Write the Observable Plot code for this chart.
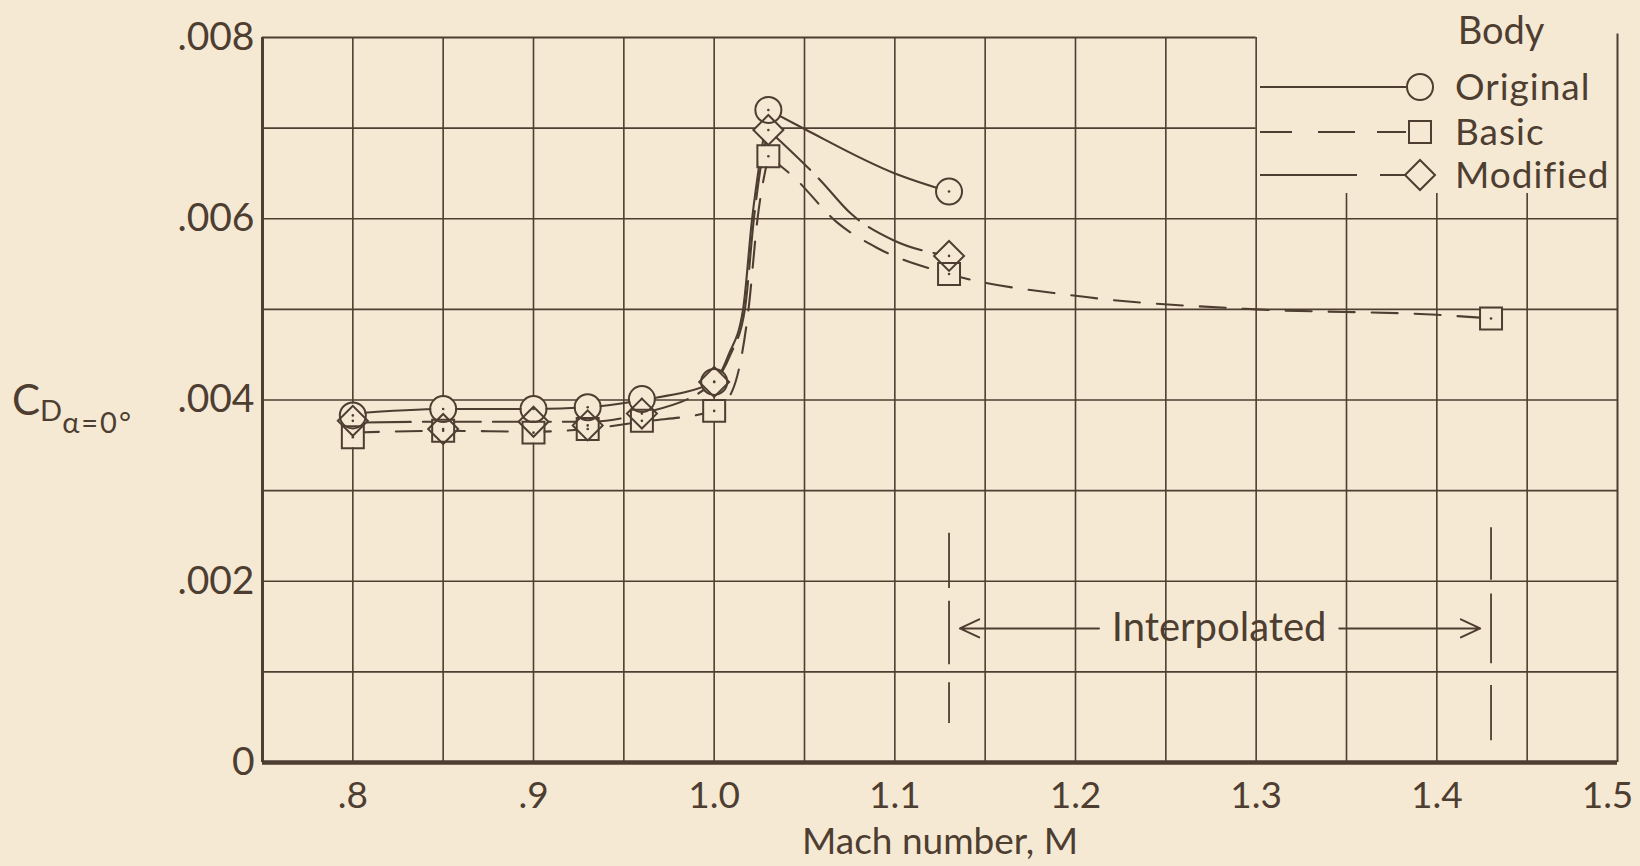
<!DOCTYPE html>
<html><head><meta charset="utf-8">
<script src="https://cdn.jsdelivr.net/npm/d3@7"></script>
<script src="https://cdn.jsdelivr.net/npm/@observablehq/plot@0.6"></script>
<style>
html,body{margin:0;padding:0;background:#f6e9d4;}
#chart{width:1640px;height:866px;overflow:hidden;position:relative}
svg{display:block}
</style></head><body><div id="chart"></div>
<script>
// ---------------- data ----------------
const xTicks = [0.8, 0.9, 1.0, 1.1, 1.2, 1.3, 1.4, 1.5];
const xTickLabels = [".8", ".9", "1.0", "1.1", "1.2", "1.3", "1.4", "1.5"];
const yTicks = [0, 0.002, 0.004, 0.006, 0.008];
const yTickLabels = ["0", ".002", ".004", ".006", ".008"];
const gridX = [0.8, 0.85, 0.9, 0.95, 1.0, 1.05, 1.1, 1.15, 1.2, 1.25, 1.3, 1.35, 1.4, 1.45];
const gridY = [0.001, 0.002, 0.003, 0.004, 0.005, 0.006, 0.007];

const seriesNames = ["Original", "Basic", "Modified"];

// measured points (markers)
const originalMach = [0.8, 0.85, 0.9, 0.93, 0.96, 1.0, 1.03, 1.13];
const originalCD   = [0.00383, 0.0039, 0.0039, 0.00392, 0.00401, 0.0042, 0.0072, 0.0063];
const basicMach = [0.8, 0.85, 0.9, 0.93, 0.96, 1.0, 1.03, 1.13, 1.43];
const basicCD   = [0.00359, 0.00366, 0.00364, 0.00368, 0.00377, 0.00388, 0.00669, 0.00539, 0.0049];
const modifiedMach = [0.8, 0.85, 0.9, 0.93, 0.96, 1.0, 1.03, 1.13];
const modifiedCD   = [0.00377, 0.00368, 0.00376, 0.00372, 0.00385, 0.0042, 0.00698, 0.00559];

// faired curves: [mach, cd, segment]
const originalCurve = [
  [0.8,0.00385,0],[0.85,0.0039,0],[0.9,0.0039,0],[0.93,0.00392,0],[0.96,0.004,0],[1.0,0.0042,0],
  [1.008,0.0045,0],[1.016,0.005,0],[1.021,0.006,0],[1.025,0.0066,0],[1.03,0.0072,0],
  [1.03,0.0072,1],[1.05,0.00699,1],[1.1,0.0065,1],[1.13,0.0063,1]
];
const basicCurve = [
  [0.8,0.00364,0],[0.85,0.00366,0],[0.9,0.00365,0],[0.93,0.00368,0],[0.96,0.00376,0],[1.0,0.00388,0],
  [1.01,0.0041,0],[1.019,0.005,0],[1.024,0.006,0],[1.03,0.00669,0],
  [1.03,0.00669,1],[1.044,0.00646,1],[1.068,0.00596,1],[1.09,0.00568,1],[1.13,0.00539,1],
  [1.2,0.00515,1],[1.3,0.005,1],[1.4,0.00494,1],[1.43,0.0049,1]
];
const modifiedCurve = [
  [0.8,0.00375,0],[0.85,0.00376,0],[0.9,0.00376,0],[0.93,0.00376,0],[0.96,0.00385,0],[1.0,0.0042,0],
  [1.009,0.0045,0],[1.017,0.005,0],[1.022,0.006,0],[1.026,0.0066,0],[1.03,0.00698,0],
  [1.03,0.00698,1],[1.059,0.00642,1],[1.0755,0.00606,1],[1.0995,0.00576,1],[1.13,0.00559,1]
];

// "Interpolated" annotation
const interpSegments = [
  [1.13,0.00253,0.00192],[1.13,0.00178,0.00108],[1.13,0.00088,0.00043],
  [1.43,0.00259,0.00201],[1.43,0.00186,0.00109],[1.43,0.00085,0.00024]
];
const interpArrows = [[1.213,1.136,0.00148],[1.346,1.424,0.00148]];
const interpLabel = [[1.2795,0.00148,"Interpolated"]];

// ---------------- build ----------------
const ink = "#4d3e31";
const paper = "#f6e9d4";
const font = "Lato, 'DejaVu Sans', sans-serif";
const legendBottom = 0.00628;

const styles = {
  Original: {symbol:"circle", dash:null, r:13},
  Basic: {symbol:"square", dash:"26,17", r:12.4},
  Modified: {symbol:"diamond2", dash:"58,12", r:13.5}
};
const markerRows = [];
const push = (name, ms, cs) => ms.forEach((m,i)=>markerRows.push({name, M:m, cd:cs[i]}));
push("Original", originalMach, originalCD);
push("Basic", basicMach, basicCD);
push("Modified", modifiedMach, modifiedCD);

const curveRows = (name, arr) => arr.map(([M,cd,seg]) => ({name, M, cd, key:name+seg}));

const lineMarks = seriesNames.map(n => Plot.line(
  curveRows(n, {Original:originalCurve, Basic:basicCurve, Modified:modifiedCurve}[n]),
  {x:"M", y:"cd", z:"key", curve:"monotone-x", stroke:ink, strokeWidth:2.1,
   strokeDasharray: styles[n].dash || undefined}));

const dotMarks = [];
seriesNames.forEach(n => {
  const rows = markerRows.filter(d=>d.name===n);
  dotMarks.push(Plot.dot(rows, {x:"M", y:"cd", symbol:()=>styles[n].symbol, r:styles[n].r-1, fill:paper, stroke:null}));
});
seriesNames.forEach(n => {
  const rows = markerRows.filter(d=>d.name===n);
  dotMarks.push(Plot.dot(rows, {x:"M", y:"cd", symbol:()=>styles[n].symbol, r:styles[n].r, fill:"none", stroke:ink, strokeWidth:2}));
});
dotMarks.push(Plot.dot(markerRows, {x:"M", y:"cd", r:1.3, fill:ink, stroke:null}));

const plot = Plot.plot({
  width:1640, height:866,
  marginLeft:262, marginRight:23, marginTop:37, marginBottom:104,
  x:{domain:[0.75,1.5], axis:null},
  y:{domain:[0,0.008], axis:null},
  symbol:{type:"identity"},
  style:{background:paper, fontFamily:font, color:ink, overflow:"visible"},
  marks:[
    // grid
    Plot.ruleX(gridX, {x:d=>d, y1:0, y2:d=> d>1.3 ? legendBottom : 0.008, stroke:ink, strokeWidth:1.6}),
    Plot.ruleY(gridY, {y:d=>d, x1:0.75, x2:d=> d>legendBottom ? 1.3 : 1.5, stroke:ink, strokeWidth:1.6}),
    Plot.ruleY([0.008], {x1:0.75, x2:1.3, stroke:ink, strokeWidth:2}),
    Plot.ruleX([0.75], {y1:0, y2:0.008, stroke:ink, strokeWidth:3}),
    Plot.ruleX([1.5], {y1:0, y2:0.00804, stroke:ink, strokeWidth:2}),
    Plot.ruleY([0], {x1:0.75, x2:1.5, stroke:ink, strokeWidth:4.5}),
    // axes
    Plot.axisX(xTicks.slice(0,-1), {label:null, tickSize:0, tickPadding:19, tickFormat:(d,i)=>xTickLabels[i], fontSize:37, fill:ink, letterSpacing:"1px"}),
    Plot.axisX(xTicks.slice(-1), {label:null, tickSize:0, tickPadding:19, dx:-10, tickFormat:()=>xTickLabels[xTickLabels.length-1], fontSize:37, fill:ink, letterSpacing:"1px"}),
    Plot.axisY(yTicks, {label:null, tickSize:0, tickPadding:8, tickFormat:(d,i)=>yTickLabels[i], fontSize:39, fill:ink, letterSpacing:"2px"}),
    Plot.text(["Mach number, M"], {frameAnchor:"bottom", dy:91, fontSize:37, fill:ink, letterSpacing:"1.5px"}),
    // annotation
    Plot.ruleX(interpSegments, {x:d=>d[0], y1:d=>d[1], y2:d=>d[2], stroke:ink, strokeWidth:1.8}),
    Plot.arrow(interpArrows, {x1:d=>d[0], x2:d=>d[1], y1:d=>d[2], y2:d=>d[2], stroke:ink, strokeWidth:2, headLength:16, headAngle:50}),
    Plot.text(interpLabel, {x:d=>d[0], y:d=>d[1], text:d=>d[2], fontSize:40, fill:ink}),
    // data
    ...lineMarks,
    ...dotMarks
  ]
});
document.getElementById("chart").appendChild(plot);

// ---------------- legend & y label (drawn into the svg) ----------------
const svg = d3.select(plot);
const g = svg.append("g").attr("fill", ink).attr("font-family", font).attr("text-anchor","start");
g.append("text").attr("x",1501).attr("y",44).attr("text-anchor","middle").attr("font-size",38).text("Body");
const legendRows = [
  {name:"Original", y:87, dash:null},
  {name:"Basic", y:132, dash:"32,26,37,22,30"},
  {name:"Modified", y:175, dash:"97,23,30"}
];
legendRows.forEach(r => {
  g.append("line").attr("x1",1260).attr("x2",1406).attr("y1",r.y).attr("y2",r.y)
    .attr("stroke",ink).attr("stroke-width",2.2).attr("stroke-dasharray", r.dash);
  const sym = d3.symbol().type({circle:d3.symbolCircle, square:d3.symbolSquare, diamond2:d3.symbolDiamond2}[styles[r.name].symbol])
    .size(Math.PI*styles[r.name].r*styles[r.name].r);
  g.append("path").attr("d", sym()).attr("transform",`translate(1420,${r.y})`)
    .attr("fill",paper).attr("stroke",ink).attr("stroke-width",2);
  g.append("text").attr("x",1455).attr("y",r.y).attr("dy","0.36em").attr("font-size",37).attr("letter-spacing","1px").text(r.name);
});
const yl = g.append("text").attr("x",12).attr("y",415).attr("font-size",42);
yl.append("tspan").text("C");
yl.append("tspan").attr("font-size",29).attr("dy",6).text("D");
yl.append("tspan").attr("font-size",29).attr("dy",12).attr("letter-spacing","2px").text("α=0°");
</script></body></html>
